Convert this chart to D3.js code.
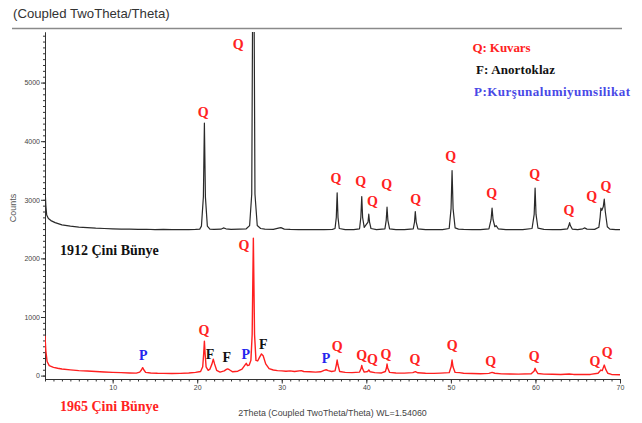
<!DOCTYPE html>
<html>
<head>
<meta charset="utf-8">
<script src="https://cdn.jsdelivr.net/npm/d3@7"></script>
<style>
  body { margin: 0; background: #fff; }
  svg { display: block; }
  .axis text { font-family: "Liberation Sans", Arial, sans-serif; font-size: 7px; fill: #444; }
  .axis path, .axis line { stroke: #333; }
  .lbl { font-family: "Liberation Serif", "Times New Roman", serif; font-weight: bold; }
</style>
</head>
<body>
<script>
// 2theta / counts (1912 pattern is drawn shifted up, as in the original)
const pattern1912 = [
  [2.0, 3200], [2.1, 2900], [2.2, 2740], [2.4, 2680], [2.7, 2645], [3.2, 2610], [4.0, 2572],
  [5, 2550], [6, 2535], [7, 2525], [8, 2515], [9, 2510], [10, 2505], [11, 2500], [12, 2498],
  [13, 2495], [14, 2497], [15, 2492], [16, 2494], [17, 2490], [18, 2493], [19, 2490],
  [19.8, 2495], [20.3, 2500], [20.5, 2550], [20.73, 3050], [20.85, 4310], [20.97, 3050],
  [21.2, 2550], [21.5, 2500], [22, 2495], [22.8, 2498], [23.1, 2520], [23.4, 2505],
  [24.0, 2495], [25, 2500], [25.8, 2505], [26.2, 2560], [26.45, 3100], [26.64, 9000],
  [26.83, 3100], [27.1, 2560], [27.5, 2510], [28, 2500], [29, 2495], [29.6, 2515],
  [29.9, 2525], [30.3, 2500], [31, 2495], [32, 2492], [33, 2490], [34, 2493], [35, 2490],
  [36, 2495], [36.3, 2510], [36.45, 2700], [36.55, 3120], [36.65, 2700], [36.8, 2510],
  [37.5, 2492], [38.5, 2490], [39.2, 2505], [39.35, 2700], [39.46, 3055], [39.56, 2700],
  [39.75, 2530], [40.2, 2620], [40.29, 2754], [40.38, 2620], [40.55, 2510], [41.2, 2492],
  [42.2, 2505], [42.35, 2650], [42.45, 2874], [42.55, 2650], [42.75, 2505], [43.5, 2490],
  [44.5, 2492], [45.55, 2505], [45.7, 2620], [45.79, 2800], [45.9, 2620], [46.1, 2505],
  [47, 2490], [48, 2492], [49, 2490], [49.8, 2510], [50.02, 2850], [50.14, 3500],
  [50.26, 2850], [50.5, 2520], [50.9, 2500], [51.5, 2495], [52.5, 2490], [53.5, 2492],
  [54.5, 2505], [54.75, 2660], [54.87, 2857], [54.99, 2660], [55.2, 2540], [55.35, 2560],
  [55.6, 2505], [56.5, 2492], [57.5, 2490], [58.5, 2492], [59.6, 2510], [59.85, 2750],
  [59.96, 3200], [60.07, 2750], [60.3, 2515], [61, 2495], [62, 2490], [63, 2492],
  [63.8, 2505], [63.95, 2560], [64.04, 2611], [64.13, 2560], [64.35, 2500], [65, 2492],
  [65.6, 2505], [65.8, 2520], [66.1, 2500], [67, 2495], [67.5, 2530], [67.65, 2700],
  [67.74, 2857], [67.85, 2820], [68.02, 2880], [68.14, 3010], [68.26, 2800], [68.5, 2540],
  [68.8, 2500], [69.5, 2492], [70.0, 2490]
];

const pattern1965 = [
  [2.0, 680], [2.1, 420], [2.25, 240], [2.5, 170], [3, 140], [3.5, 125], [4, 112], [5, 98],
  [6, 85], [7, 78], [8, 70], [9, 62], [10, 55], [11, 50], [12, 45], [12.8, 42], [13.2, 60],
  [13.4, 95], [13.55, 135], [13.7, 95], [13.9, 55], [14.5, 45], [15.3, 40], [16, 38],
  [17, 35], [18, 38], [19, 45], [19.8, 55], [20.4, 70], [20.65, 150], [20.77, 380],
  [20.85, 585], [20.93, 380], [21.05, 150], [21.3, 90], [21.5, 110], [21.75, 200],
  [21.9, 280], [22.05, 200], [22.3, 90], [22.7, 60], [23.2, 80], [23.45, 105], [23.6, 115],
  [23.8, 100], [24.2, 65], [24.8, 75], [25.3, 110], [25.6, 170], [25.8, 210], [25.95, 170],
  [26.15, 180], [26.35, 260], [26.5, 700], [26.64, 2345], [26.78, 700], [26.95, 260],
  [27.15, 250], [27.4, 320], [27.6, 370], [27.8, 340], [28.1, 200], [28.5, 120], [29, 95],
  [29.5, 85], [30, 80], [30.5, 75], [31, 80], [31.5, 70], [32.3, 85], [32.6, 70],
  [33.3, 65], [34, 60], [34.6, 65], [35.0, 90], [35.25, 100], [35.5, 85], [35.9, 70],
  [36.3, 80], [36.45, 180], [36.55, 266], [36.65, 180], [36.85, 70], [37.5, 55], [38.3, 50],
  [39.2, 60], [39.38, 120], [39.46, 175], [39.55, 120], [39.75, 60], [40.15, 70],
  [40.3, 95], [40.45, 65], [41, 50], [41.8, 45], [42.25, 70], [42.38, 130], [42.45, 198],
  [42.53, 130], [42.75, 55], [43.5, 45], [44.5, 42], [45.5, 50], [45.8, 68], [46.1, 48],
  [47, 40], [48, 38], [48.8, 42], [49.8, 50], [50.03, 150], [50.14, 266], [50.25, 150],
  [50.5, 55], [51, 50], [51.5, 40], [52.5, 35], [53.5, 32], [54.5, 38], [54.87, 55],
  [55.2, 40], [56, 30], [57, 28], [58, 26], [59.5, 32], [59.85, 80], [59.96, 124],
  [60.08, 80], [60.3, 35], [61, 25], [62, 22], [63, 20], [64.0, 28], [64.5, 20], [65.5, 18],
  [66.5, 20], [67.4, 40], [67.74, 95], [67.9, 85], [68.14, 180], [68.3, 110], [68.55, 40],
  [69, 20], [70, 15]
];

// phase marks: [2theta, counts, phase]
const marks1912 = [
  [20.72, 4493, "Q"], [24.86, 5654, "Q"], [36.41, 3367, "Q"], [39.33, 3321, "Q"],
  [40.71, 2980, "Q"], [42.41, 3265, "Q"], [45.84, 3009, "Q"], [49.98, 3747, "Q"],
  [54.83, 3111, "Q"], [59.91, 3440, "Q"], [63.97, 2814, "Q"], [66.65, 3065, "Q"],
  [68.34, 3224, "Q"]
];
const marks1965 = [
  [13.62, 340, "P"], [20.80, 766, "Q"], [21.51, 363, "F"], [23.49, 312, "F"],
  [25.73, 363, "P"], [25.53, 2229, "Q"], [27.82, 539, "F"], [35.23, 295, "P"],
  [36.57, 493, "Q"], [39.45, 340, "Q"], [40.71, 283, "Q"], [42.33, 369, "Q"],
  [45.76, 283, "Q"], [50.17, 522, "Q"], [54.71, 237, "Q"], [59.86, 323, "Q"],
  [67.04, 249, "Q"], [68.50, 403, "Q"]
];

const phases = ["Q", "F", "P"];
const phaseNames = ["Q: Kuvars", "F: Anortoklaz", "P:Kurşunalumiyumsilikat"];
const phaseColors = ["#f22", "#111", "#2424ee"];
const sampleNames = ["1912 Çini Bünye", "1965 Çini Bünye"];
const xMajorTicks = [10, 20, 30, 40, 50, 60, 70];
const yMajorTicks = [0, 1000, 2000, 3000, 4000, 5000];

const W = 642, H = 423;
const margin = {top: 32, right: 22, bottom: 44, left: 45},
  width = W - margin.left - margin.right,
  height = H - margin.top - margin.bottom;

let x = d3.scaleLinear().domain([2, 70]).range([0, width]);
let y = d3.scaleLinear().domain([-58, 5863]).range([height, 0]);
let color = d3.scaleOrdinal().domain(phases).range(phaseColors);

let root = d3.select("body").append("svg")
  .attr("width", W)
  .attr("height", H);

// header
root.append("text")
  .attr("x", 13)
  .attr("y", 18)
  .style("font-family", "Liberation Sans, Arial, sans-serif")
  .style("font-size", "13.2px")
  .style("fill", "#333")
  .text("(Coupled TwoTheta/Theta)");
root.append("line")
  .attr("x1", 12).attr("x2", 622)
  .attr("y1", 28.5).attr("y2", 28.5)
  .style("stroke", "#8a8a8a")
  .style("stroke-width", 1.6);

let svg = root.append("g")
  .attr("transform", "translate(" + margin.left + "," + margin.top + ")");

svg.append("clipPath").attr("id", "plot-clip")
  .append("rect").attr("x", 0).attr("y", 0).attr("width", width).attr("height", height);

// axes
svg.append("g")
  .attr("class", "x axis")
  .attr("transform", "translate(0," + height + ")")
  .call(d3.axisBottom(x).tickValues(d3.range(2, 71, 1)).tickSize(2.5).tickSizeOuter(0).tickFormat(""));
svg.append("g")
  .attr("class", "x axis")
  .attr("transform", "translate(0," + height + ")")
  .call(d3.axisBottom(x).tickValues(xMajorTicks).tickSize(4.5).tickPadding(2).tickSizeOuter(0));

svg.append("g")
  .attr("class", "y axis minor")
  .call(d3.axisLeft(y).tickValues(d3.range(0, 5900, 100)).tickSize(2).tickSizeOuter(0).tickFormat(""));
svg.selectAll(".y.axis.minor .tick line").attr("x1", 1);
svg.append("g")
  .attr("class", "y axis")
  .call(d3.axisLeft(y).tickValues(yMajorTicks).tickSize(4).tickPadding(1).tickSizeOuter(0).tickFormat(d3.format("d")));

svg.append("text")
  .attr("transform", "translate(" + (16 - margin.left) + "," + (208 - margin.top) + ") rotate(-90)")
  .style("text-anchor", "middle")
  .style("font-family", "Liberation Sans, Arial, sans-serif")
  .style("font-size", "9px")
  .style("fill", "#555")
  .text("Counts");

svg.append("text")
  .attr("x", x(36.0))
  .attr("y", height + 37)
  .style("text-anchor", "middle")
  .style("font-family", "Liberation Sans, Arial, sans-serif")
  .style("font-size", "8.9px")
  .style("fill", "#444")
  .text("2Theta (Coupled TwoTheta/Theta) WL=1.54060");

// patterns
let line = d3.line()
  .x(function (d) { return x(d[0]); })
  .y(function (d) { return y(d[1]); });

let plot = svg.append("g").attr("clip-path", "url(#plot-clip)");
plot.append("path")
  .datum(pattern1912)
  .attr("d", line)
  .style("fill", "none")
  .style("stroke", "#2a2a2a")
  .style("stroke-width", 1.2)
  .style("stroke-linejoin", "round");
plot.append("path")
  .datum(pattern1965)
  .attr("d", line)
  .style("fill", "none")
  .style("stroke", "#ff1f1f")
  .style("stroke-width", 1.4)
  .style("stroke-linejoin", "round");

// peak marks
svg.selectAll("text.mark")
  .data(marks1912.concat(marks1965))
  .enter().append("text")
  .attr("class", "mark lbl")
  .attr("x", function (d) { return x(d[0]); })
  .attr("y", function (d) { return y(d[1]); })
  .attr("dy", "0.34em")
  .style("text-anchor", "middle")
  .style("font-size", "14px")
  .style("fill", function (d) { return color(d[2]); })
  .text(function (d) { return d[2]; });

// legend
svg.selectAll("text.legend")
  .data(phaseNames)
  .enter().append("text")
  .attr("class", "legend lbl")
  .attr("x", function (d, i) { return [472.5, 476, 474][i] - margin.left; })
  .attr("y", function (d, i) { return 47.5 + i * 22 - margin.top; })
  .attr("dy", "0.34em")
  .attr("textLength", function (d, i) { return [58, 79, 156][i]; })
  .attr("lengthAdjust", "spacing")
  .style("font-size", "13px")
  .style("fill", function (d, i) { return i === 2 ? "#4848e6" : phaseColors[i]; })
  .text(function (d) { return d; });

// sample names
svg.selectAll("text.sample")
  .data(sampleNames)
  .enter().append("text")
  .attr("class", "sample lbl")
  .attr("x", 60 - margin.left)
  .attr("y", function (d, i) { return [250, 406][i] - margin.top; })
  .attr("dy", "0.34em")
  .style("font-size", "14px")
  .style("fill", function (d, i) { return i === 0 ? "#111" : "#f22"; })
  .text(function (d) { return d; });
</script>
</body>
</html>
